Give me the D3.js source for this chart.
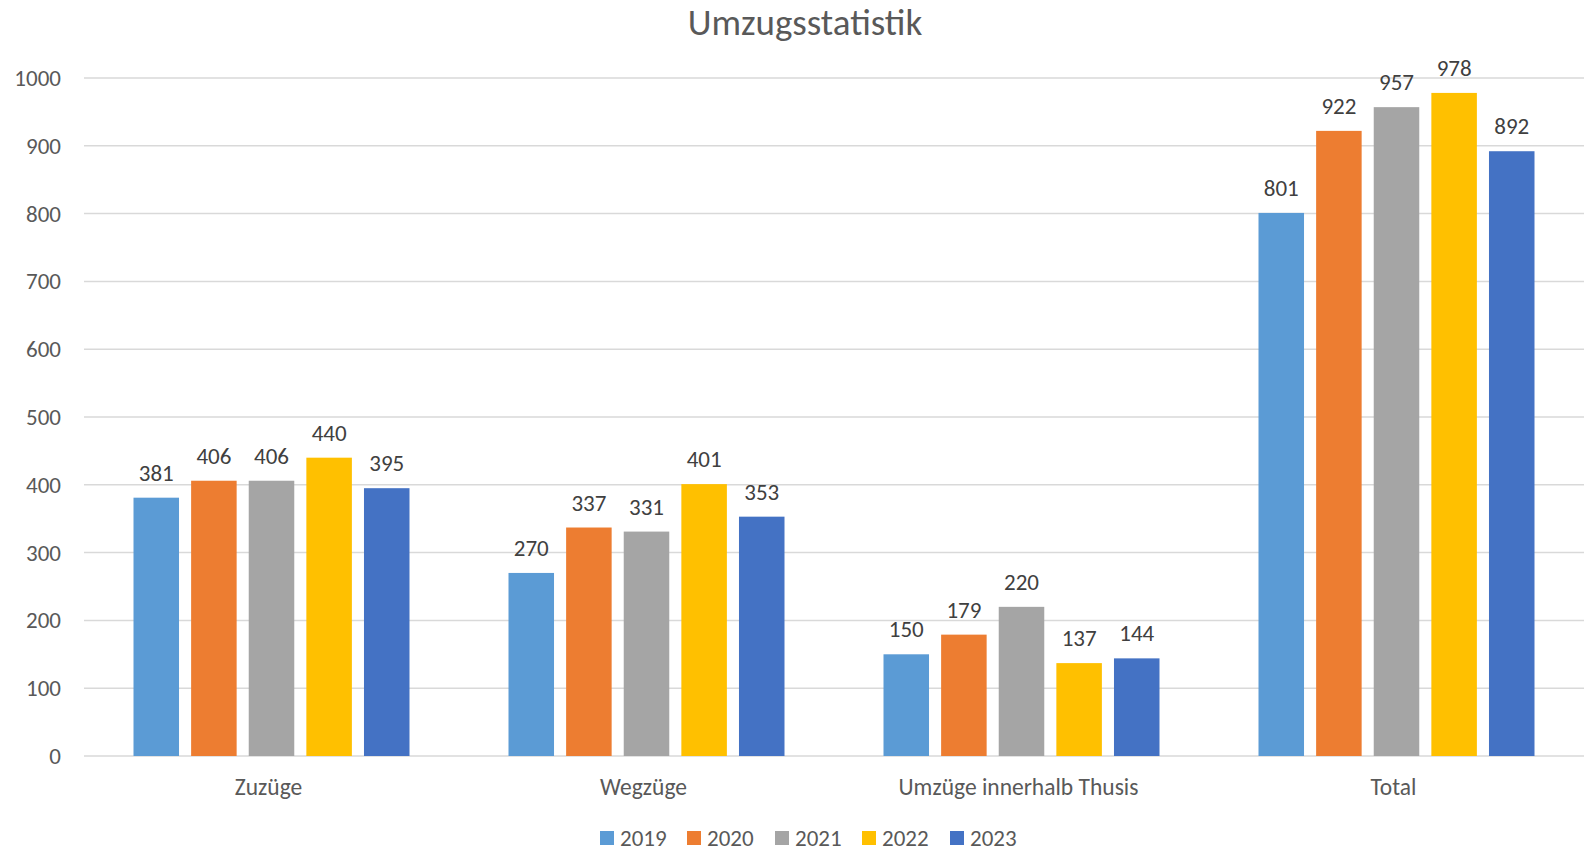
<!DOCTYPE html>
<html>
<head>
<meta charset="utf-8">
<script src="https://cdn.jsdelivr.net/npm/d3@7"></script>
<style>
  body { margin: 0; background: #fff; }
  svg text { font-family: Carlito, Calibri, "Open Sans", sans-serif; }
</style>
</head>
<body>
<svg id="chart" width="1588" height="852"></svg>
<script>
const categories = ["Zuzüge", "Wegzüge", "Umzüge innerhalb Thusis", "Total"];
const years = ["2019", "2020", "2021", "2022", "2023"];
const colors = ["#5B9BD5", "#ED7D31", "#A5A5A5", "#FFC000", "#4472C4"];
const values2019 = [381, 270, 150, 801];
const values2020 = [406, 337, 179, 922];
const values2021 = [406, 331, 220, 957];
const values2022 = [440, 401, 137, 978];
const values2023 = [395, 353, 144, 892];
const yTicks = [0, 100, 200, 300, 400, 500, 600, 700, 800, 900, 1000];

const series = [values2019, values2020, values2021, values2022, values2023];

const svg = d3.select("#chart");
const plotLeft = 84, plotRight = 1584, plotTop = 78, plotBottom = 756;

const x0 = d3.scaleBand().domain(categories).range([plotLeft, plotRight]).padding(0);
const groupW = x0.bandwidth() * 0.736;
const x1 = d3.scaleBand().domain(years).range([0, groupW]).paddingInner(0.21).paddingOuter(0);
const y = d3.scaleLinear().domain([0, 1000]).range([plotBottom, plotTop]);

// Title
svg.append("text")
    .attr("x", 805).attr("y", 35)
    .attr("text-anchor", "middle")
    .attr("font-size", 37)
    .attr("fill", "#595959")
    .text("Umzugsstatistik");

// Gridlines
svg.append("g").selectAll("line")
    .data(yTicks)
    .enter().append("line")
    .attr("x1", plotLeft).attr("x2", plotRight)
    .attr("y1", d => y(d)).attr("y2", d => y(d))
    .attr("stroke", "#d9d9d9")
    .attr("stroke-width", 1.5);

// Y axis labels
svg.append("g").selectAll("text")
    .data(yTicks)
    .enter().append("text")
    .attr("x", 61).attr("y", d => y(d) + 8)
    .attr("text-anchor", "end")
    .attr("font-size", 23)
    .attr("fill", "#595959")
    .text(d => d);

// Bars
const groups = svg.append("g").selectAll("g")
    .data(categories)
    .enter().append("g")
    .attr("transform", d => `translate(${x0(d) + (x0.bandwidth() - groupW) / 2},0)`);

groups.selectAll("rect")
    .data((c, ci) => years.map((yr, si) => ({ yr, si, v: series[si][ci] })))
    .enter().append("rect")
    .attr("x", d => x1(d.yr))
    .attr("width", x1.bandwidth())
    .attr("y", d => y(d.v))
    .attr("height", d => plotBottom - y(d.v))
    .attr("fill", d => colors[d.si]);

groups.selectAll("text")
    .data((c, ci) => years.map((yr, si) => ({ yr, si, v: series[si][ci] })))
    .enter().append("text")
    .attr("x", d => x1(d.yr) + x1.bandwidth() / 2)
    .attr("y", d => y(d.v) - 17)
    .attr("text-anchor", "middle")
    .attr("font-size", 23)
    .attr("fill", "#404040")
    .text(d => d.v);

// Category labels
svg.append("g").selectAll("text")
    .data(categories)
    .enter().append("text")
    .attr("x", d => x0(d) + x0.bandwidth() / 2 - 3)
    .attr("y", 795)
    .attr("text-anchor", "middle")
    .attr("font-size", 23.5)
    .attr("fill", "#595959")
    .text(d => d);

// Legend
const legendX = [600, 687, 775, 862, 950];
const legend = svg.append("g").selectAll("g")
    .data(years)
    .enter().append("g")
    .attr("transform", (d, i) => `translate(${legendX[i]},831)`);
legend.append("rect")
    .attr("width", 14).attr("height", 14)
    .attr("fill", (d, i) => colors[i]);
legend.append("text")
    .attr("x", 20).attr("y", 15)
    .attr("font-size", 23)
    .attr("fill", "#595959")
    .text(d => d);
</script>
</body>
</html>
